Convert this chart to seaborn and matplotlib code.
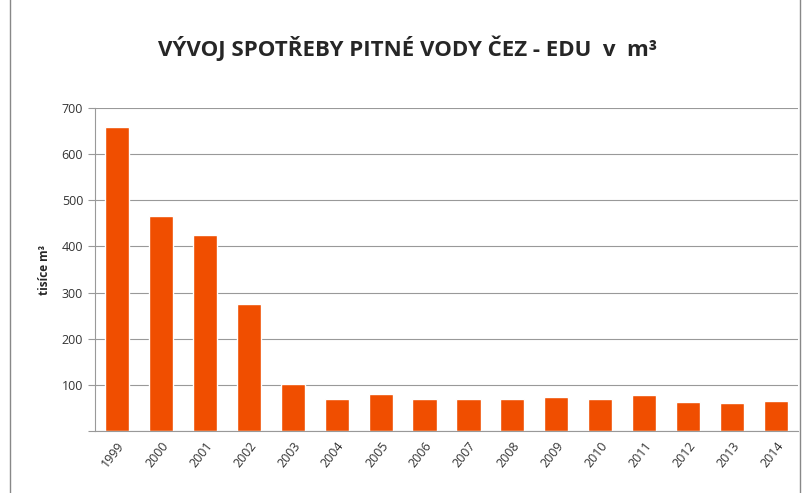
import numpy as np
import pandas as pd
import matplotlib.pyplot as plt
import seaborn as sns
from matplotlib.patches import Rectangle

# data (thousands of m3)
years = ['1999', '2000', '2001', '2002', '2003', '2004', '2005', '2006',
         '2007', '2008', '2009', '2010', '2011', '2012', '2013', '2014']
consumption = [659, 466, 425, 275, 102, 69, 80, 69, 69, 69, 74, 69, 78, 63, 61, 65]
y_ticks = [0, 100, 200, 300, 400, 500, 600, 700]

df = pd.DataFrame({'Rok': years, 'Spotreba': consumption})

sns.set_style('white')
plt.rcParams['font.family'] = ['Open Sans', 'DejaVu Sans']

fig = plt.figure(figsize=(8.02, 4.93), dpi=100)
ax = fig.add_axes([0.1185, 0.1258, 0.8765, 0.6552])

sns.barplot(data=df, x='Rok', y='Spotreba', color='#F04E00', saturation=1,
            width=0.55, ax=ax)

ax.set_ylim(0, 700)
ax.set_yticks(y_ticks)
ax.set_yticklabels([''] + [str(v) for v in y_ticks[1:]], fontsize=9, color='#333333')
ax.yaxis.grid(True, color='#999999', linewidth=0.8)
ax.set_axisbelow(True)
ax.set_xlim(-0.5, len(years) - 0.5)

# Excel-like tick marks between categories
ax.tick_params(axis='x', which='major', length=0, labelsize=9, labelcolor='#333333', pad=6)
ax.set_xticks(np.arange(-0.5, len(years), 1), minor=True)
ax.tick_params(axis='x', which='minor', length=5, color='#999999', direction='out')
ax.tick_params(axis='y', length=5, color='#999999', direction='out', left=True)
plt.setp(ax.get_xticklabels(), rotation=52, ha='right', rotation_mode='anchor')

for side in ['top', 'right']:
    ax.spines[side].set_visible(False)
for side in ['left', 'bottom']:
    ax.spines[side].set_color('#999999')

ax.set_xlabel('')
ax.set_ylabel('tisíce m³', fontsize=8.5, fontweight='bold', labelpad=8)

fig.text(0.508, 0.902, 'VÝVOJ SPOTŘEBY PITNÉ VODY ČEZ - EDU  v  m³',
         ha='center', va='center', fontsize=16, fontweight='bold')

# chart border
fig.patches.append(Rectangle((0.013, -0.01), 0.985, 1.05, transform=fig.transFigure,
                             fill=False, edgecolor='#888888', linewidth=1))

fig.savefig('out.png', dpi=100)
